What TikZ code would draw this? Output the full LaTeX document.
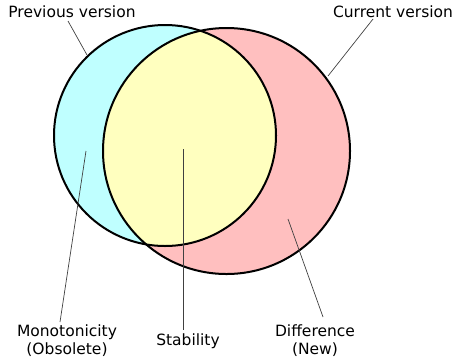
\documentclass[tikz,border=0pt]{standalone}
\usepackage{fontspec}
\setmainfont{DejaVu Sans}
\definecolor{prevcol}{HTML}{BFFFFF}
\definecolor{curcol}{HTML}{FFBFBF}
\definecolor{bothcol}{HTML}{FFFFBF}
\definecolor{leadcol}{HTML}{404040}
\begin{document}
\begin{tikzpicture}[x=1bp,y=-1bp,
  lbl/.style={inner sep=0pt, align=center, font=\fontsize{15.5bp}{18bp}\selectfont},
  leader/.style={draw=leadcol, line width=0.7bp},
  outline/.style={draw=black, line width=2bp}]
\useasboundingbox (0,0) rectangle (453,363);
% fills
\fill[prevcol] (165,135.5) ellipse [x radius=111, y radius=110.5];
\fill[curcol] (226.5,151) ellipse [x radius=123.5, y radius=123];
\begin{scope}
  \clip (165,135.5) ellipse [x radius=111, y radius=110.5];
  \fill[bothcol] (226.5,151) ellipse [x radius=123.5, y radius=123];
\end{scope}
% outlines
\path[outline] (165,135.5) ellipse [x radius=111, y radius=110.5];
\path[outline] (226.5,151) ellipse [x radius=123.5, y radius=123];
% labels
\node[lbl] (prevlbl) at (72,12) {Previous version};
\node[lbl] (curlbl) at (393,12) {Current version};
\node[lbl] (monolbl) at (67,341) {Monotonicity\\(Obsolete)};
\node[lbl] (stablbl) at (188,341) {Stability};
\node[lbl] (difflbl) at (315,341) {Difference\\(New)};
% leader ends
\coordinate (p1) at (68,21);   \coordinate (p2) at (87,55);
\coordinate (c1) at (373,19);  \coordinate (c2) at (328,76);
\coordinate (m1) at (86,151);  \coordinate (m2) at (60,322);
\coordinate (s1) at (183,149); \coordinate (s2) at (183,330);
\coordinate (d1) at (288,219); \coordinate (d2) at (323,317);
\path[leader] (p1) -- (p2);
\path[leader] (c1) -- (c2);
\path[leader] (m1) -- (m2);
\path[leader] (s1) -- (s2);
\path[leader] (d1) -- (d2);
\end{tikzpicture}
\end{document}
